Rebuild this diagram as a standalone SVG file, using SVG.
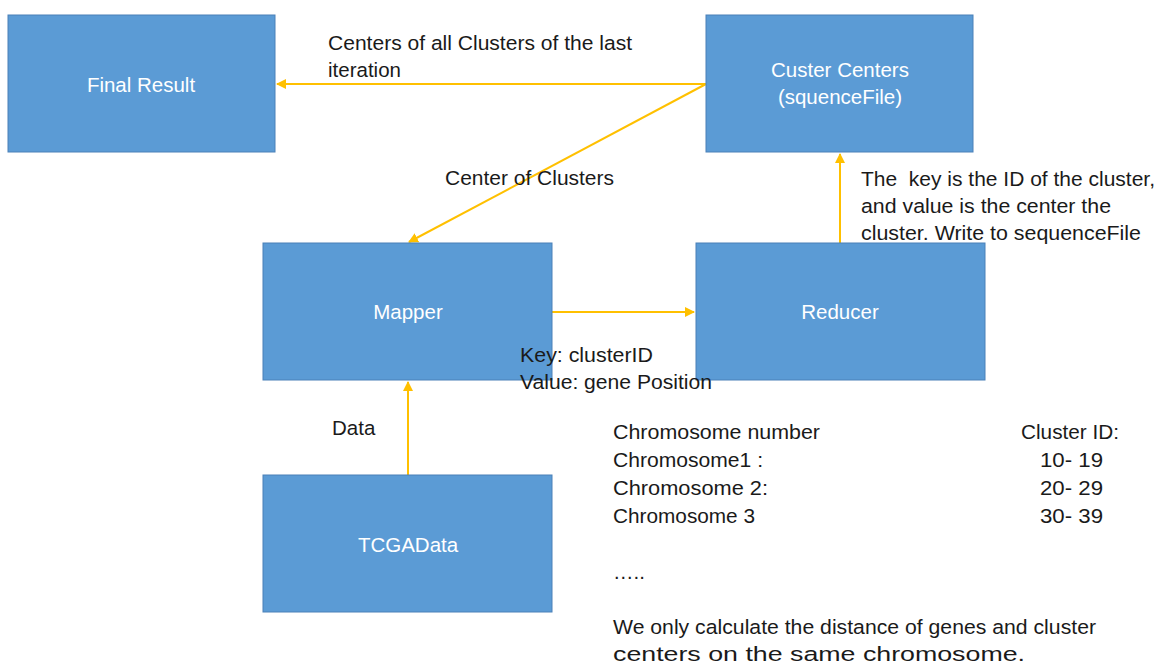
<svg xmlns="http://www.w3.org/2000/svg" width="1162" height="664" viewBox="0 0 1162 664">
<defs>
<style>
.box{fill:#5B9BD5;stroke:#4A80B8;stroke-width:1}
.nt{font-family:"Liberation Sans",Arial,sans-serif;font-size:20.5px;fill:#FFFFFF;text-anchor:middle}
.lb{font-family:"Liberation Sans",Arial,sans-serif;font-size:20.5px;fill:#1A1A1A;white-space:pre}
.cn{fill:none;stroke:#FFC000;stroke-width:2}
</style>
<marker id="ah" viewBox="0 0 10 10" refX="9" refY="5" markerWidth="5" markerHeight="5" orient="auto" markerUnits="strokeWidth">
<path d="M0,0 L10,5 L0,10 z" fill="#FFC000"/>
</marker>
</defs>
<rect width="1162" height="664" fill="#FFFFFF"/>
<g id="connectors">
<line class="cn" x1="706" y1="84" x2="277" y2="84" marker-end="url(#ah)"/>
<line class="cn" x1="706" y1="84" x2="409" y2="242" marker-end="url(#ah)"/>
<line class="cn" x1="552" y1="312" x2="694" y2="312" marker-end="url(#ah)"/>
<line class="cn" x1="840" y1="243" x2="840" y2="154" marker-end="url(#ah)"/>
<line class="cn" x1="408" y1="475" x2="408" y2="382" marker-end="url(#ah)"/>
</g>
<g id="final-result">
<rect class="box" x="8" y="15" width="267" height="137"/>
<text class="nt" x="141" y="92">Final Result</text>
</g>
<g id="cluster-centers">
<rect class="box" x="706" y="15" width="267" height="137"/>
<text class="nt" x="840" y="77">Custer Centers</text>
<text class="nt" x="840" y="104">(squenceFile)</text>
</g>
<g id="mapper">
<rect class="box" x="263" y="243" width="289" height="137"/>
<text class="nt" x="408" y="319">Mapper</text>
</g>
<g id="reducer">
<rect class="box" x="696" y="243" width="289" height="137"/>
<text class="nt" x="840" y="319">Reducer</text>
</g>
<g id="tcgadata">
<rect class="box" x="263" y="475" width="289" height="137"/>
<text class="nt" x="408" y="552">TCGAData</text>
</g>
<g id="labels">
<text class="lb" x="328" y="50" textLength="304" lengthAdjust="spacingAndGlyphs">Centers of all Clusters of the last</text>
<text class="lb" x="328" y="77">iteration</text>
<text class="lb" x="445" y="185" textLength="169" lengthAdjust="spacingAndGlyphs">Center of Clusters</text>
<text class="lb" x="861" y="186" textLength="294" lengthAdjust="spacingAndGlyphs">The  key is the ID of the cluster,</text>
<text class="lb" x="861" y="213" textLength="250" lengthAdjust="spacingAndGlyphs">and value is the center the</text>
<text class="lb" x="861" y="240" textLength="280" lengthAdjust="spacingAndGlyphs">cluster. Write to sequenceFile</text>
<text class="lb" x="520" y="362" textLength="133" lengthAdjust="spacingAndGlyphs">Key: clusterID</text>
<text class="lb" x="520" y="389" textLength="192" lengthAdjust="spacingAndGlyphs">Value: gene Position</text>
<text class="lb" x="332" y="435">Data</text>
<text class="lb" x="613" y="439" textLength="207" lengthAdjust="spacingAndGlyphs">Chromosome number</text>
<text class="lb" x="1021" y="439" textLength="98" lengthAdjust="spacingAndGlyphs">Cluster ID:</text>
<text class="lb" x="613" y="467" textLength="150" lengthAdjust="spacingAndGlyphs">Chromosome1 :</text>
<text class="lb" x="1040" y="467" textLength="63" lengthAdjust="spacingAndGlyphs">10- 19</text>
<text class="lb" x="613" y="495" textLength="155" lengthAdjust="spacingAndGlyphs">Chromosome 2:</text>
<text class="lb" x="1040" y="495" textLength="63" lengthAdjust="spacingAndGlyphs">20- 29</text>
<text class="lb" x="613" y="523" textLength="142" lengthAdjust="spacingAndGlyphs">Chromosome 3</text>
<text class="lb" x="1040" y="523" textLength="63" lengthAdjust="spacingAndGlyphs">30- 39</text>
<text class="lb" x="613" y="579">…..</text>
<text class="lb" x="613" y="634" textLength="483" lengthAdjust="spacingAndGlyphs">We only calculate the distance of genes and cluster</text>
<text class="lb" x="613" y="661" textLength="412" lengthAdjust="spacingAndGlyphs">centers on the same chromosome.</text>
</g>
</svg>
